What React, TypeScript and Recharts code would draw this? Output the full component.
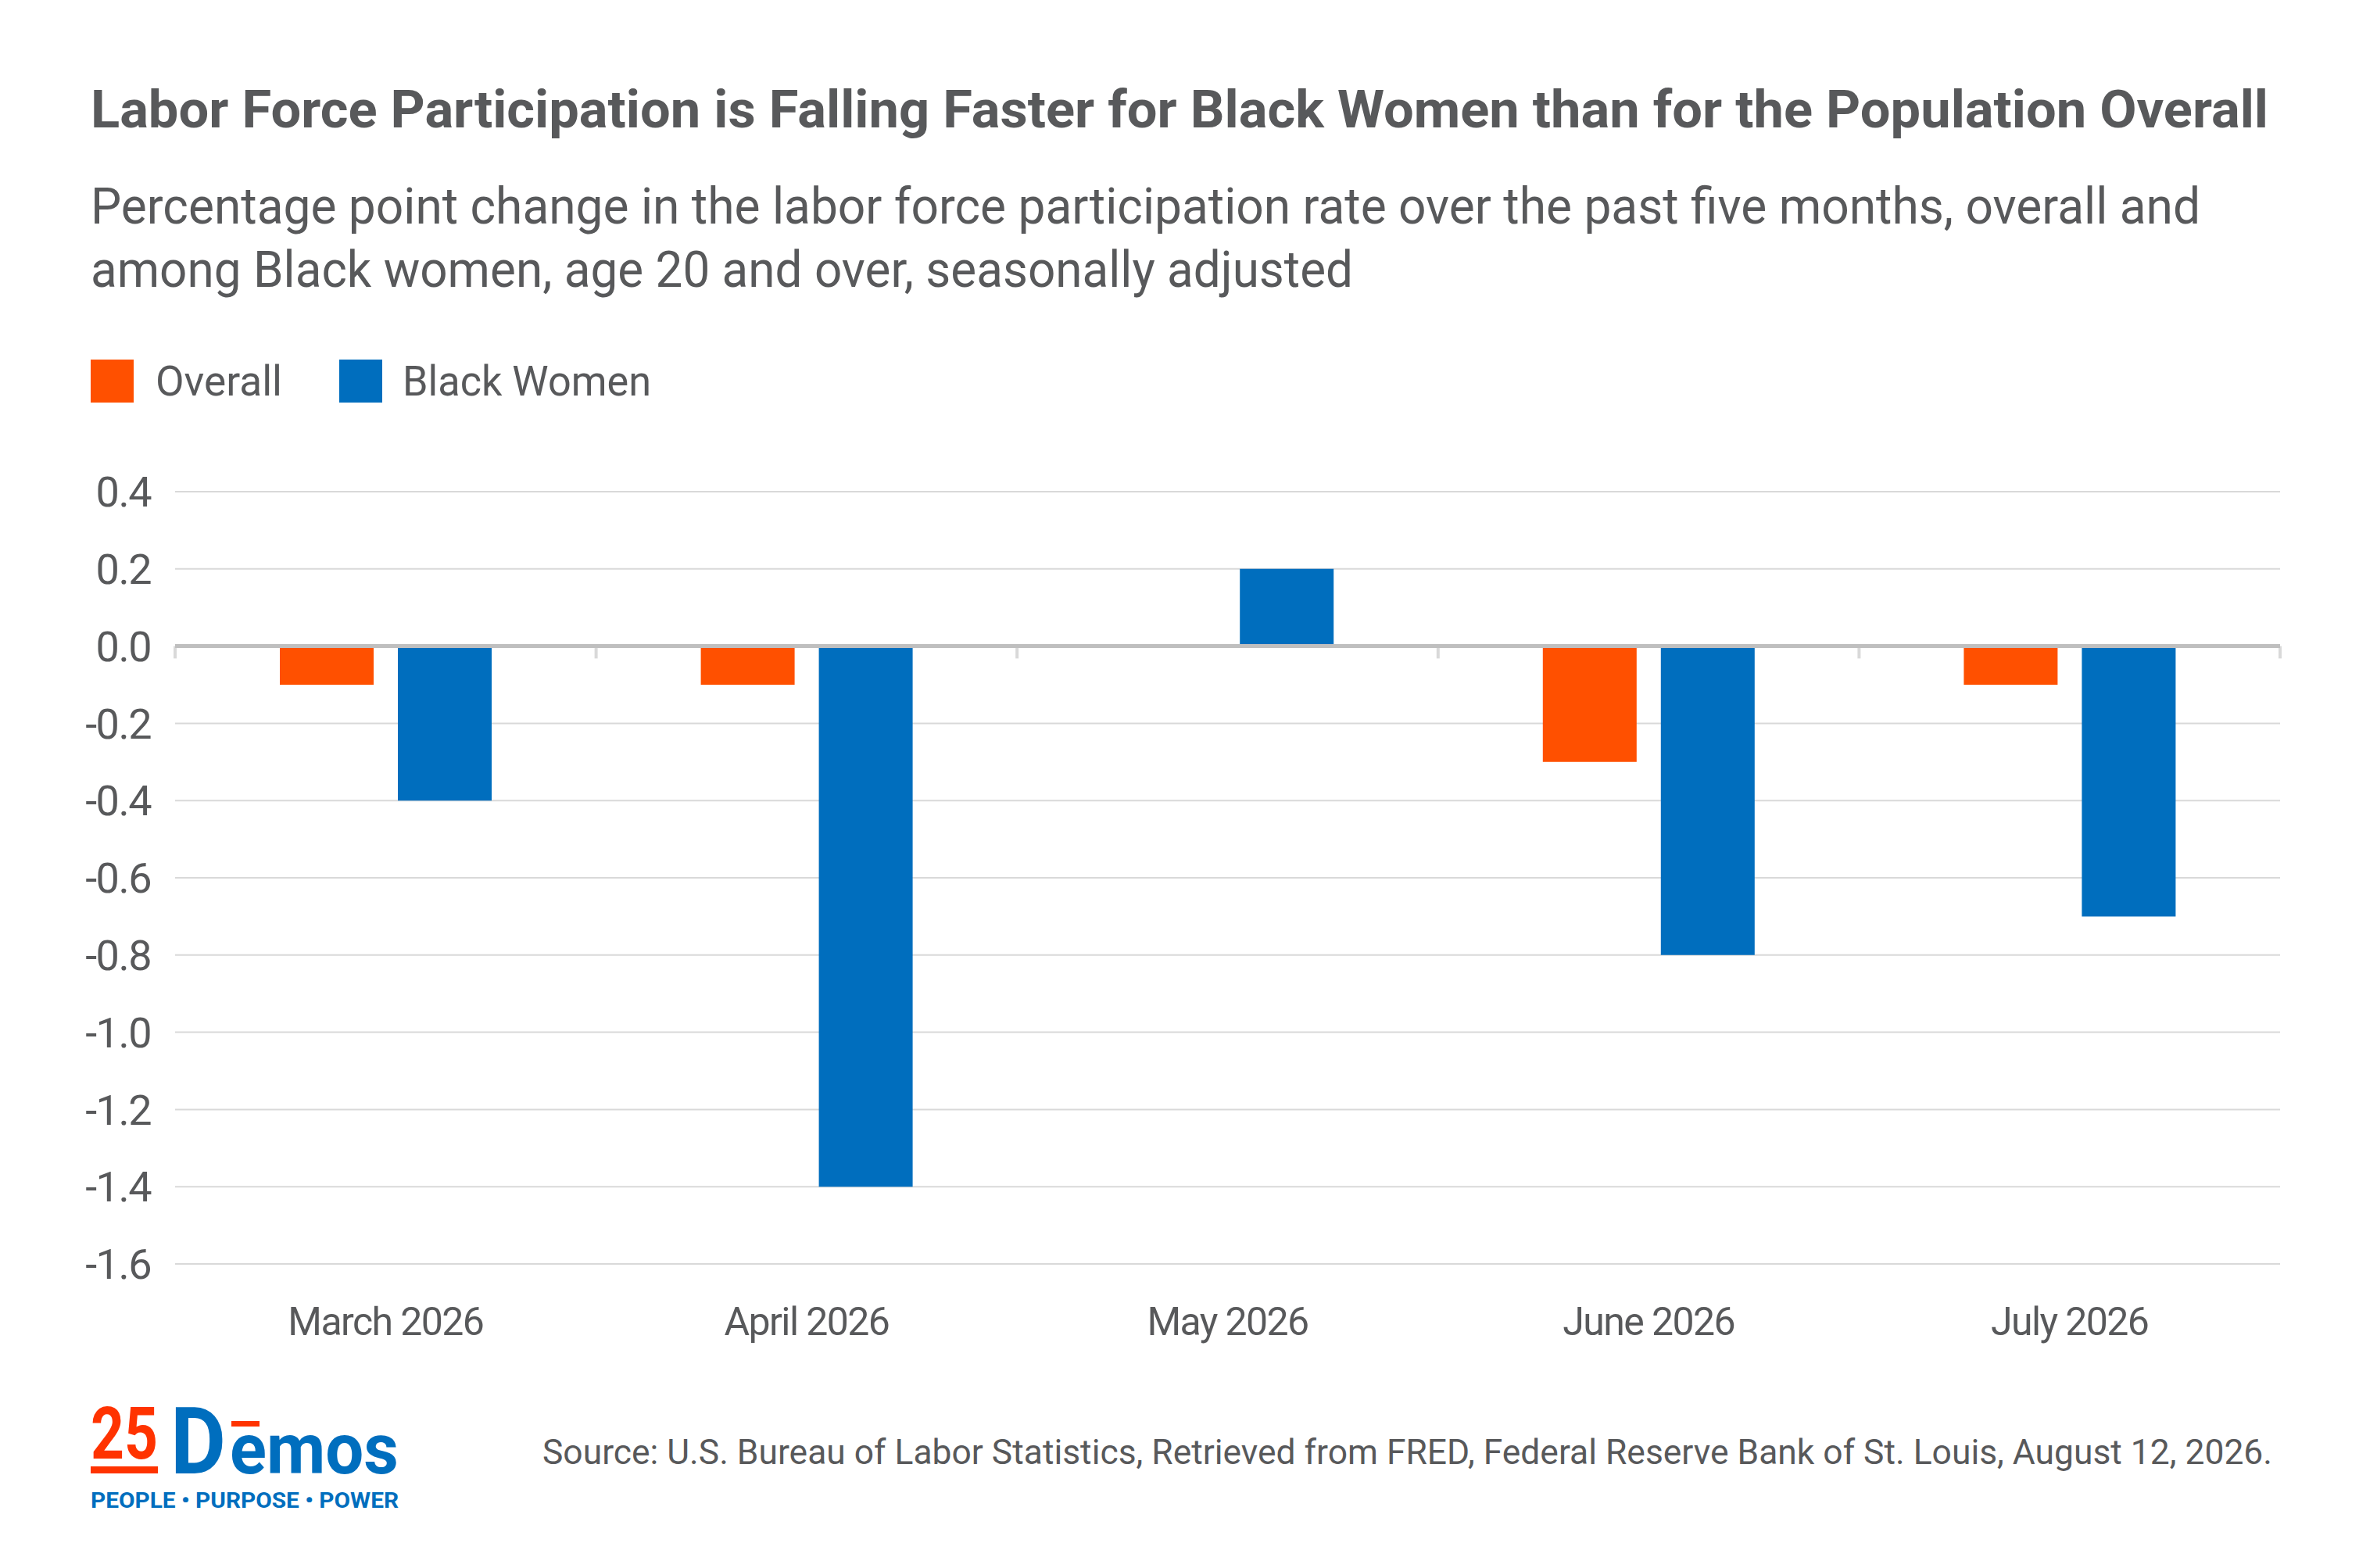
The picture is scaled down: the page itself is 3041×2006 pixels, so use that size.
import React from "react";
import {
  BarChart,
  Bar,
  XAxis,
  YAxis,
  CartesianGrid,
  ReferenceLine,
} from "recharts";

// values (pp change, LFPR, 20+)
const months = ["March 2026", "April 2026", "May 2026", "June 2026", "July 2026"];
const overall = [-0.1, -0.1, 0.0, -0.3, -0.1];
const blackWomen = [-0.4, -1.4, 0.2, -0.8, -0.7];
const yTicks = [0.4, 0.2, 0, -0.2, -0.4, -0.6, -0.8, -1.0, -1.2, -1.4, -1.6];

const ORANGE = "#FF5000";
const BLUE = "#006EBE";
const RED = "#FF3300";
const INK = "#58595B";
const FONT = "Roboto, 'Noto Sans', sans-serif";

const rows = months.map((m, i) => ({
  month: m,
  overall: overall[i],
  blackWomen: blackWomen[i],
}));

// little ticks hanging off the zero line at every band edge
const edges = months
  .map((m) => ({ month: m, position: "start" }))
  .concat([{ month: months[months.length - 1], position: "end" }]);

function Header() {
  return (
    <g fontFamily={FONT} fill={INK}>
      <text x={116} y={163} fontSize={66} fontWeight={700} textLength={2786} lengthAdjust="spacingAndGlyphs">
        Labor Force Participation is Falling Faster for Black Women than for the Population Overall
      </text>
      <text x={116} y={286} fontSize={64} textLength={2699} lengthAdjust="spacingAndGlyphs">
        Percentage point change in the labor force participation rate over the past five months, overall and
      </text>
      <text x={116} y={367} fontSize={64} textLength={1615} lengthAdjust="spacingAndGlyphs">
        among Black women, age 20 and over, seasonally adjusted
      </text>

      <rect x={116} y={460} width={55} height={55} fill={ORANGE} />
      <text x={199} y={506} fontSize={53} textLength={162} lengthAdjust="spacingAndGlyphs">
        Overall
      </text>
      <rect x={434} y={460} width={55} height={55} fill={BLUE} />
      <text x={515} y={506} fontSize={53} textLength={318} lengthAdjust="spacingAndGlyphs">
        Black Women
      </text>
    </g>
  );
}

function Footer() {
  return (
    <g fontFamily={FONT}>
      <text x={116} y={1866} fontSize={92} fontWeight={700} fill={RED} textLength={86} lengthAdjust="spacingAndGlyphs">
        25
      </text>
      <rect x={116} y={1876} width={86} height={9} fill={RED} />
      <text x={218} y={1885} fontSize={118} fontWeight={700} fill={BLUE} textLength={71} lengthAdjust="spacingAndGlyphs">
        D
      </text>
      <rect x={296} y={1818} width={36} height={7} fill={RED} />
      <text x={294} y={1885} fontSize={90} fontWeight={700} fill={BLUE} textLength={216} lengthAdjust="spacingAndGlyphs">
        emos
      </text>
      <text x={116} y={1929} fontSize={27} fontWeight={700} fill={BLUE} textLength={394} lengthAdjust="spacingAndGlyphs">
        PEOPLE • PURPOSE • POWER
      </text>
      <text x={694} y={1873} fontSize={45} fill={INK} textLength={2213} lengthAdjust="spacingAndGlyphs">
        Source: U.S. Bureau of Labor Statistics, Retrieved from FRED, Federal Reserve Bank of St. Louis, August 12, 2026.
      </text>
    </g>
  );
}

export default function App() {
  return (
    <div
      style={{
        position: "absolute",
        left: 0,
        top: 0,
        width: 3041,
        height: 2006,
        background: "#fff",
        overflow: "hidden",
      }}
    >
      <div style={{ position: "absolute", left: 0, top: 560 }}>
        <BarChart
          width={3041}
          height={1177}
          data={rows}
          margin={{ top: 69, right: 124, bottom: 0, left: 0 }}
          barGap={31}
        >
          <CartesianGrid vertical={false} stroke="#D9D9D9" strokeWidth={2} />
          <XAxis
            dataKey="month"
            axisLine={false}
            tickLine={false}
            height={120}
            tickMargin={49}
            interval={0}
            tick={{ fill: INK, fontSize: 50, fontFamily: FONT, letterSpacing: -1.6 }}
          />
          <YAxis
            domain={[-1.6, 0.4]}
            ticks={yTicks}
            interval={0}
            width={224}
            axisLine={false}
            tickLine={false}
            tickMargin={25}
            tickFormatter={(v: number) => v.toFixed(1)}
            tick={{ fill: INK, fontSize: 54, fontFamily: FONT, letterSpacing: -1.5 }}
          />
          <Bar dataKey="overall" fill={ORANGE} barSize={120} isAnimationActive={false} />
          <Bar dataKey="blackWomen" fill={BLUE} barSize={120} isAnimationActive={false} />
          {edges.map((e, i) => (
            <ReferenceLine
              key={i}
              position={e.position as any}
              segment={[
                { x: e.month, y: 0 },
                { x: e.month, y: -0.032 },
              ]}
              stroke="#D9D9D9"
              strokeWidth={4}
            />
          ))}
          <ReferenceLine y={0} stroke="#BFBFBF" strokeWidth={5} />
        </BarChart>
      </div>
      <svg
        width={3041}
        height={2006}
        style={{ position: "absolute", left: 0, top: 0, pointerEvents: "none" }}
      >
        <Header />
        <Footer />
      </svg>
    </div>
  );
}
